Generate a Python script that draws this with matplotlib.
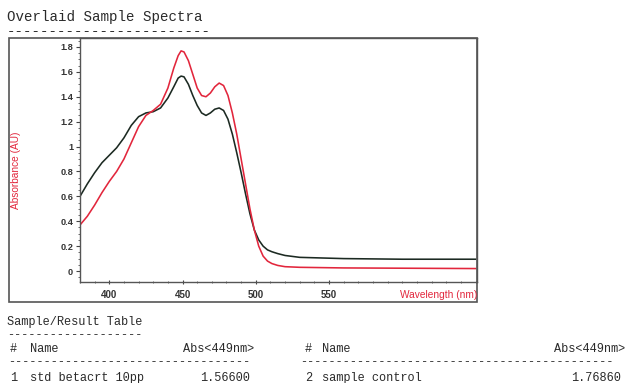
import matplotlib
matplotlib.use("Agg")
import matplotlib.pyplot as plt
from matplotlib.patches import Rectangle
from matplotlib.ticker import MultipleLocator

# ---- data ----
wl_std = [380, 385, 390, 395, 400, 405, 410, 415, 420, 425, 430, 435, 440, 444, 447,
          449, 451, 454, 457, 460, 463, 466, 469, 472, 475, 478, 481, 484, 487, 490,
          493, 496, 499, 502, 505, 508, 511, 515, 520, 530, 545, 560, 600, 650]
abs_std = [0.60, 0.70, 0.79, 0.87, 0.93, 0.99, 1.07, 1.17, 1.24, 1.27, 1.28, 1.31, 1.39, 1.48, 1.55,
           1.566, 1.56, 1.50, 1.41, 1.33, 1.27, 1.25, 1.27, 1.30, 1.31, 1.29, 1.22, 1.10, 0.95, 0.79,
           0.62, 0.46, 0.33, 0.25, 0.20, 0.17, 0.155, 0.14, 0.125, 0.11, 0.105, 0.10, 0.095, 0.095]

wl_smp = [380, 385, 390, 395, 400, 405, 410, 415, 420, 425, 430, 435, 440, 444, 447,
          449, 451, 454, 457, 460, 463, 466, 469, 472, 475, 478, 481, 484, 487, 490,
          493, 496, 499, 502, 505, 508, 511, 515, 520, 530, 560, 650]
abs_smp = [0.37, 0.44, 0.53, 0.63, 0.72, 0.80, 0.90, 1.03, 1.16, 1.25, 1.29, 1.34, 1.47, 1.63, 1.73,
           1.7686, 1.76, 1.69, 1.58, 1.47, 1.41, 1.40, 1.43, 1.48, 1.51, 1.49, 1.41, 1.27, 1.10, 0.90,
           0.70, 0.50, 0.33, 0.20, 0.12, 0.08, 0.06, 0.045, 0.035, 0.03, 0.025, 0.02]

y_ticks = [0, 0.2, 0.4, 0.6, 0.8, 1, 1.2, 1.4, 1.6, 1.8]
y_tick_labels = ["0", "0.2", "0.4", "0.6", "0.8", "1", "1.2", "1.4", "1.6", "1.8"]
x_ticks = [400, 450, 500, 550]

sample_nums = ["1", "2"]
sample_names = ["std betacrt 10pp", "sample control"]
sample_abs = ["1.56600", "1.76860"]

# ---- figure ----
W, H = 625, 383
fig = plt.figure(figsize=(W / 100, H / 100), dpi=100)

def fx(px):
    return px / W

def fy(py):
    return 1 - py / H

mono = "Liberation Mono"
ax = fig.add_axes([fx(80), fy(282), fx(477) - fx(80), fy(38) - fy(282)])
ax.plot(wl_std, abs_std, color="#1c2a22", lw=1.15)
ax.plot(wl_smp, abs_smp, color="#e2263c", lw=1.15)
ax.set_xlim(380, 651)
ax.set_ylim(-0.088, 1.872)
ax.set_yticks(y_ticks)
ax.set_yticklabels(y_tick_labels)
ax.set_xticks(x_ticks)
ax.xaxis.set_minor_locator(MultipleLocator(10))
ax.yaxis.set_minor_locator(MultipleLocator(0.05))
for lab in ax.get_xticklabels():
    lab.set_fontfamily("Liberation Sans")
    lab.set_fontweight("bold")
    lab.set_fontsize(7)
    lab.set_color("#333333")
for lab in ax.get_yticklabels():
    lab.set_fontfamily("Liberation Sans")
    lab.set_fontweight("bold")
    lab.set_fontsize(6.6)
    lab.set_color("#333333")
ax.tick_params(axis="both", which="major", length=3, width=0.8, color="#444444", pad=2)
ax.tick_params(axis="x", which="both", direction="inout")
ax.tick_params(axis="x", which="major", pad=4)
ax.tick_params(axis="both", which="minor", length=1.8, width=0.6, color="#555555")
for s in ax.spines.values():
    s.set_color("#555555")
    s.set_linewidth(1.0)

fig.text(fx(477), fy(295), "Wavelength (nm)", ha="right", va="center",
         color="#e2263c", fontsize=7.3, fontfamily="Liberation Sans")
fig.text(fx(16), fy(170), "Absorbance (AU)", rotation=90, ha="center", va="center",
         color="#e2263c", fontsize=7.3, fontfamily="Liberation Sans")

# outer frame
fig.patches.append(Rectangle((fx(9), fy(302)), fx(477) - fx(9), fy(38) - fy(302),
                             transform=fig.transFigure, fill=False,
                             edgecolor="#555555", lw=1.2))

# header texts
tcol = "#2a2a2a"
fig.text(fx(7), fy(17), "Overlaid Sample Spectra", fontfamily=mono, fontsize=10.2,
         color=tcol, va="center", ha="left")
fig.text(fx(7), fy(31), "-" * 24, fontfamily=mono, fontsize=10.2,
         color=tcol, va="center", ha="left")

fs = 8.6
fig.text(fx(7), fy(322), "Sample/Result Table", fontfamily=mono, fontsize=fs,
         color=tcol, va="center", ha="left")
fig.text(fx(7), fy(335), "-" * 19, fontfamily=mono, fontsize=fs,
         color=tcol, va="center", ha="left")

col_num = [fx(10), fx(305)]
col_name = [fx(30), fx(322)]
col_abs = [fx(254), fx(625)]
dash_x = [(fx(8), 34), (fx(300), 44)]
for i in range(2):
    fig.text(col_num[i], fy(349), "#", fontfamily=mono, fontsize=fs, color=tcol, va="center")
    fig.text(col_name[i], fy(349), "Name", fontfamily=mono, fontsize=fs, color=tcol, va="center")
    fig.text(col_abs[i], fy(349), "Abs<449nm>", fontfamily=mono, fontsize=fs, color=tcol,
             va="center", ha="right")
    fig.text(dash_x[i][0], fy(362), "-" * dash_x[i][1], fontfamily=mono, fontsize=fs,
             color=tcol, va="center")
    fig.text(col_num[i], fy(378), sample_nums[i], fontfamily=mono, fontsize=fs, color=tcol,
             va="center")
    fig.text(col_name[i], fy(378), sample_names[i], fontfamily=mono, fontsize=fs, color=tcol,
             va="center")
    fig.text(col_abs[i] - fx(4), fy(378), sample_abs[i], fontfamily=mono, fontsize=fs,
             color=tcol, va="center", ha="right")

fig.savefig("out.png", dpi=100)
